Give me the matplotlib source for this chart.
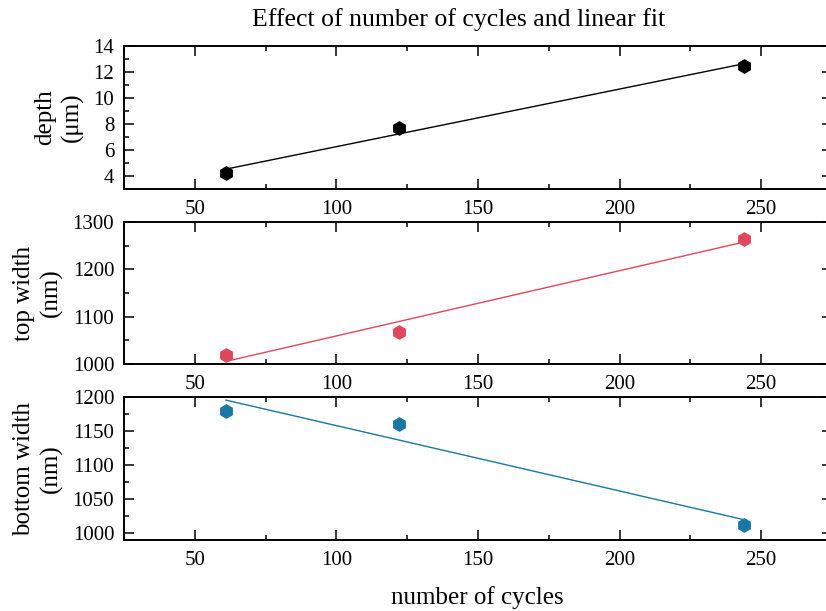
import numpy as np
import matplotlib
matplotlib.use("Agg")
import matplotlib.pyplot as plt
from matplotlib.ticker import MultipleLocator

plt.rcParams["font.family"] = ["Liberation Serif", "DejaVu Serif"]
plt.rcParams["mathtext.fontset"] = "stix"

# measurements
cycles = [61, 122, 244]
depth = [4.23, 7.68, 12.49]          # um
top_width = [1020, 1068, 1265]       # nm
bottom_width = [1180, 1160, 1012]    # nm

ylabels = ["depth\n(μm)", "top width\n(nm)", "bottom width\n(nm)"]
colors = ["black", "#e0475c", "#1778a3"]
ylims = [(3, 14), (1000, 1300), (990, 1200)]
ymajor = [2, 100, 50]
yminor = [1, 50, 25]

W, H = 826, 611
fig = plt.figure(figsize=(W / 100, H / 100), dpi=100)

# panel edges in pixels (top, bottom)
left_px, right_px = 124, 832
rows_px = [(46, 189), (222, 364), (397, 540)]

series = [depth, top_width, bottom_width]
for i, (top, bot) in enumerate(rows_px):
    ax = fig.add_axes([left_px / W, 1 - bot / H,
                       (right_px - left_px) / W, (bot - top) / H])
    y = series[i]
    c = colors[i]

    # linear fit over the measured points
    k, b = np.polyfit(cycles, y, 1)
    xf = np.array([cycles[0], cycles[-1]])
    ax.plot(xf, k * xf + b, color=c, lw=1.0, zorder=2)
    ax.plot(cycles, y, linestyle="none", marker="h", ms=9.5,
            color=c, zorder=3)

    ax.set_xlim(25, 275)
    ax.set_ylim(*ylims[i])
    ax.xaxis.set_major_locator(MultipleLocator(50))
    ax.xaxis.set_minor_locator(MultipleLocator(25))
    ax.yaxis.set_major_locator(MultipleLocator(ymajor[i]))
    ax.yaxis.set_minor_locator(MultipleLocator(yminor[i]))
    ax.tick_params(which="both", direction="in", top=True, right=True,
                   labelsize=15, width=1.1)
    ax.tick_params(axis="x", which="both", pad=8)
    ax.tick_params(axis="y", which="both", pad=7)
    ax.tick_params(which="major", length=7)
    ax.tick_params(which="minor", length=3.5)
    for s in ax.spines.values():
        s.set_linewidth(1.4)

    ax.set_ylabel(ylabels[i], fontsize=18, linespacing=1.25, labelpad=7)

fig.text(459 / W, 1 - 20 / H, "Effect of number of cycles and linear fit",
         ha="center", va="center", fontsize=18.5)
fig.text(477 / W, 1 - 598 / H, "number of cycles",
         ha="center", va="center", fontsize=18)

fig.savefig("out.png", dpi=100)
